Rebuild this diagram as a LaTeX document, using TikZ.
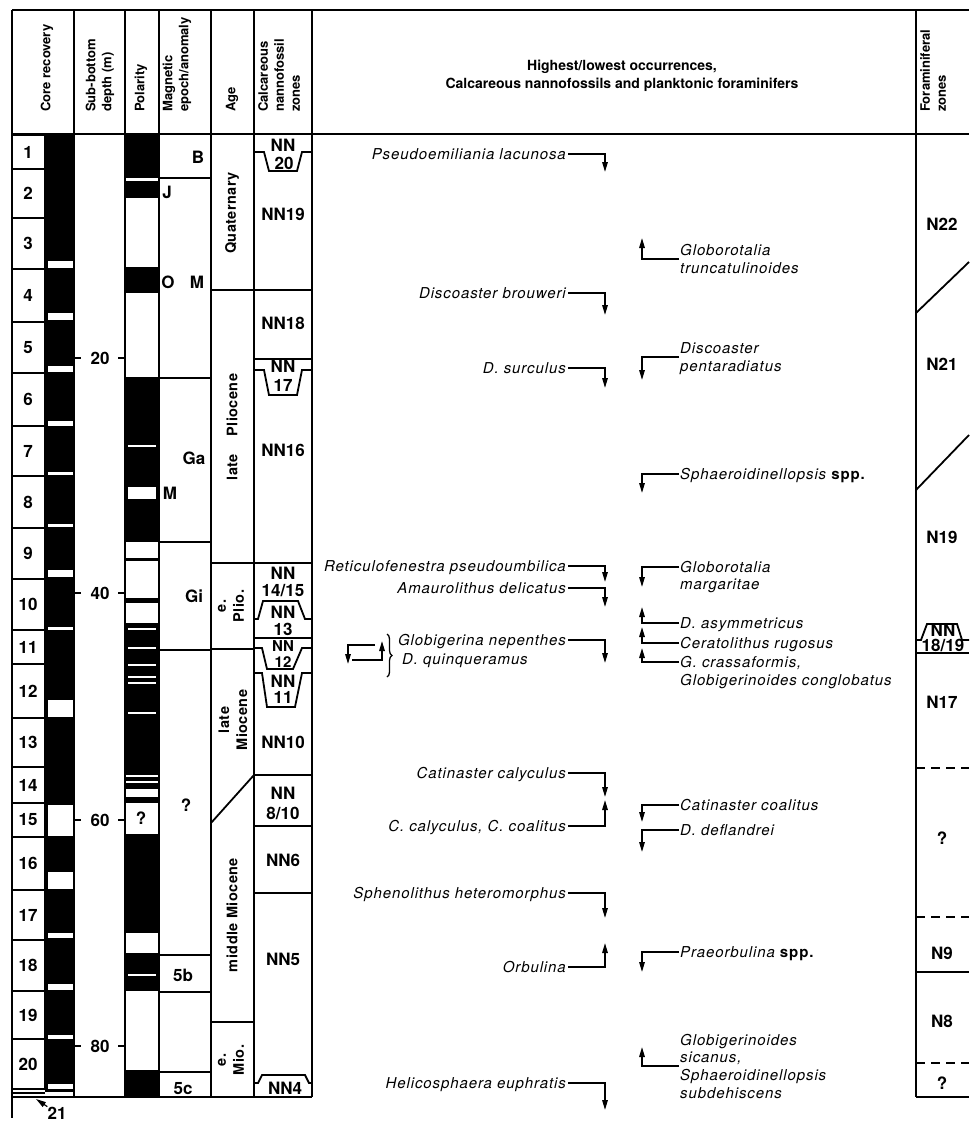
\documentclass[tikz,border=0pt]{standalone}
\usepackage{fontspec}
\setmainfont{TeX Gyre Heros}
\newfontfamily\spfont[LetterSpace=6]{TeX Gyre Heros}
\newfontfamily\lbfont[LetterSpace=3]{TeX Gyre Heros}
\usetikzlibrary{arrows.meta,calc,decorations.pathreplacing}
\begin{document}
\begin{tikzpicture}[x=1pt,y=-1pt,
  tbl/.style={line width=2pt},
  sepl/.style={line width=1.8pt},
  hdr/.style={font=\bfseries\fontsize{13}{16}\selectfont, rotate=90, anchor=west, align=left, inner sep=0pt},
  lbl/.style={font=\bfseries\fontsize{17}{18}\selectfont, inner sep=0pt},
  slbl/.style={font=\bfseries\fontsize{15}{16}\selectfont, inner sep=0pt},
  agel/.style={font=\lbfont\bfseries\fontsize{14.5}{18}\selectfont, rotate=90, align=center, inner sep=0pt},
  sp/.style={font=\spfont\itshape\fontsize{15}{17.5}\selectfont, inner sep=2pt, text height=10.5pt, text depth=0pt, anchor=east},
  fo/.style={font=\spfont\itshape\fontsize{15}{17.5}\selectfont, inner sep=1pt, text height=10.5pt, text depth=0pt, anchor=west},
  arr/.style={line width=1.5pt, -{Triangle[length=10pt,width=5.5pt]}},
  dsh/.style={line width=1.8pt, dash pattern=on 9pt off 6pt},
]
\useasboundingbox (0,0) rectangle (969,1124);
\fill[white] (0,0) rectangle (969,1124);

% ---------- core recovery bar ----------
\fill (45,135) rectangle (74,1092);
\foreach \a/\b in {261/268,313/320,366/372,421/426,472/475,524/527,570/577,627/630,700/717,805/836,872/889,933/938,984/990,1035/1039,1084/1089}
  \fill[white] (47.5,\a) rectangle (72.5,\b);

% ---------- core number boxes ----------
\foreach \t/\b/\n in {135/169/1,169/218/2,218/269/3,269/322/4,322/373/5,373/426/6,426/476/7,476/528/8,528/579/9,579/630/10,630/664/11,664/718/12,718/767/13,767/803/14,803/837/15,837/890/16,890/940/17,940/991/18,991/1039/19,1039/1089/20}{
  \draw[sepl] (12,\t) rectangle (45,\b);
  \node[lbl] (core\n) at (28,{(\t+\b)/2}) {\n};
}
\draw[sepl] (12,1093) -- (45,1093);

% ---------- polarity ----------
\foreach \a/\b in {135/178,181/198,267/293,377/542,558/561,598/603,623/775,777/781,783/789,797/803,834/933,953/991,1070/1097}
  \fill (125,\a) rectangle (159,\b);
\fill[white] (128,487) rectangle (156,499);
\foreach \y in {445.5,629,648,664.5,677,683,713,975}
  \fill[white] (128,\y-1) rectangle (156,\y+1);

% ---------- frame ----------
\draw[tbl] (12,10) -- (969,10);
\draw[tbl] (12,134) -- (969,134);
\draw[tbl] (12,1097) -- (312,1097);
\draw[tbl] (916,1097) -- (969,1097);
\draw[tbl] (12,10) -- (12,1118);
\foreach \x in {74,125,159,211,254,312,916}
  \draw[tbl] (\x,10) -- (\x,1097);

% ---------- headers ----------
\node[hdr] (hcore) at (47,112) {Core recovery};
\node[hdr] (hdep) at (100,112) {Sub-bottom\\depth (m)};
\node[hdr] (hpol) at (141,112) {Polarity};
\node[hdr] (hmag) at (177,112) {Magnetic\\epoch/anomaly};
\node[hdr] (hage) at (232,112) {Age};
\node[hdr] (hnan) at (279,112) {Calcareous\\nannofossil\\zones};
\node[hdr] (hfor) at (933,112) {Foraminiferal\\zones};
\node[font=\bfseries\fontsize{14}{18}\selectfont, align=center, inner sep=0pt] (hmain) at (622,76)
  {Highest/lowest occurrences,\\Calcareous nannofossils and planktonic foraminifers};

% ---------- depth ----------
\foreach \y/\d in {358/20,593/40,820/60,1046/80}{
  \node[lbl] (d\d) at (100,\y) {\d};
  \draw[sepl] (74,\y) -- (81,\y);
  \draw[sepl] (118,\y) -- (125,\y);
}

% ---------- magnetic epochs ----------
\foreach \y in {178,378,542,650,955,992,1072}
  \draw[sepl] (159,\y) -- (211,\y);
\node[lbl] (mB) at (198,157) {B};
\node[lbl] (mJ) at (167,192) {J};
\node[lbl] (mO) at (168,282) {O};
\node[lbl] (mM1) at (197,282) {M};
\node[lbl] (mGa) at (194,458) {Ga};
\node[lbl] (mM2) at (170,493) {M};
\node[lbl] (mGi) at (194,596) {Gi};
\node[lbl] (mQ) at (186,805) {?};
\node[lbl] (m5b) at (183,975) {5b};
\node[lbl] (m5c) at (183,1089) {5c};
\node[lbl] (pQ) at (141,818) {?};

% ---------- age ----------
\draw[sepl] (211,290) -- (312,290);
\draw[sepl] (211,563) -- (312,563);
\draw[sepl] (211,649) -- (254,649);
\draw[sepl] (211,823) -- (254,775);
\draw[sepl] (211,1022) -- (254,1022);
\node[agel] (aQ) at (232,213) {Quaternary};
\node[agel] (alP) at (232,427) {late\hspace{1.2em}Pliocene};
\node[agel] (aeP) at (231,606) {e.\\Plio.};
\node[agel] (alM) at (233,720) {late\\Miocene};
\node[agel] (amM) at (232,915) {middle Miocene};
\node[agel] (aeM) at (231,1060) {e.\\Mio.};

% ---------- nannofossil zones ----------
\draw[sepl] (254,152) -- (264,152) -- (269,171) -- (297,171) -- (302,152) -- (312,152);
\draw[sepl] (254,359) -- (312,359);
\draw[sepl] (254,370) -- (264,370) -- (269,395) -- (297,395) -- (302,370) -- (312,370);
\draw[sepl] (254,619) -- (258,619) -- (263,601) -- (298,601) -- (305,619) -- (312,619);
\draw[sepl] (254,638) -- (312,638);
\draw[sepl] (254,648) -- (262,648) -- (267,669) -- (293,669) -- (302,648) -- (312,648);
\draw[sepl] (254,673) -- (262,673) -- (267,707) -- (295,707) -- (302,673) -- (312,673);
\draw[sepl] (254,775) -- (312,775);
\draw[sepl] (254,826) -- (312,826);
\draw[sepl] (254,893) -- (312,893);
\draw[sepl] (254,1083) -- (258,1083) -- (262,1075) -- (305,1075) -- (309,1083) -- (312,1083);
\node[lbl] (n20a) at (283,145) {NN};
\node[lbl] (n20b) at (284,163) {20};
\node[lbl] (n19) at (283,214) {NN19};
\node[lbl] (n18) at (283,323) {NN18};
\node[lbl] (n17a) at (283,366) {NN};
\node[lbl] (n17b) at (283,385) {17};
\node[lbl] (n16) at (283,450) {NN16};
\node[lbl] (n14a) at (283,573) {NN};
\node[lbl] (n14b) at (283,591) {14/15};
\node[lbl] (n13a) at (283,612) {NN};
\node[lbl] (n13b) at (283,629) {13};
\node[slbl] (n12a) at (283,646) {NN};
\node[slbl] (n12b) at (283,662) {12};
\node[lbl] (n11a) at (283,681) {NN};
\node[lbl] (n11b) at (283,697) {11};
\node[lbl] (n10) at (283,742) {NN10};
\node[lbl] (n8a) at (283,793) {NN};
\node[lbl] (n8b) at (283,813) {8/10};
\node[lbl] (n6) at (283,860) {NN6};
\node[lbl] (n5) at (283,959) {NN5};
\node[lbl] (n4) at (285,1088) {NN4};

% ---------- foraminiferal zones ----------
\draw[sepl] (916,313) -- (969,262);
\draw[sepl] (916,490) -- (969,435);
\draw[sepl] (916,640) -- (921,640) -- (927,624) -- (957,624) -- (962,640) -- (969,640);
\draw[sepl] (916,653) -- (969,653);
\draw[dsh] (916,768) -- (969,768);
\draw[dsh] (916,917) -- (969,917);
\draw[sepl] (916,972) -- (969,972);
\draw[dsh] (916,1063) -- (969,1063);
\node[lbl] (f22) at (942,224) {N22};
\node[lbl] (f21) at (942,364) {N21};
\node[lbl] (f19) at (942,537) {N19};
\node[lbl] (f18a) at (943,630) {NN};
\node[lbl] (f18b) at (943,645) {18/19};
\node[lbl] (f17) at (942,702) {N17};
\node[lbl] (fq1) at (942,838) {?};
\node[lbl] (f9) at (942,953) {N9};
\node[lbl] (f8) at (942,1021) {N8};
\node[lbl] (fq2) at (942,1083) {?};

% ---------- core 21 ----------
\node[lbl] (core21) at (57,1113) {21};
\draw[arr, line width=1.2pt] (core21.north west) -- (36,1099);

% ---------- nannofossil events (left) ----------
\node[sp] (pl) at (568,154) {Pseudoemiliania lacunosa};
\node[sp] (db) at (568,293) {Discoaster brouweri};
\node[sp] (ds) at (568,368) {D. surculus};
\node[sp] (rp) at (568,566) {Reticulofenestra pseudoumbilica};
\node[sp] (ad) at (568,588) {Amaurolithus delicatus};
\node[sp] (gn) at (568,640) {Globigerina nepenthes};
\node[sp, anchor=west] (dq) at (400,659) {D. quinqueramus};
\node[sp] (cc) at (568,773) {Catinaster calyculus};
\node[sp] (ccc) at (568,826) {C. calyculus, C. coalitus};
\node[sp] (sh) at (568,893) {Sphenolithus heteromorphus};
\node[sp] (ob) at (568,967) {Orbulina};
\node[sp] (he) at (568,1083) {Helicosphaera euphratis};
\coordinate (plA) at (605,172);
\coordinate (dbA) at (605,315);
\coordinate (dsA) at (605,388);
\coordinate (rpA) at (605,582);
\coordinate (adA) at (605,607);
\coordinate (gnA) at (605,663);
\coordinate (ccA) at (605,797);
\coordinate (cccA) at (605,800);
\coordinate (shA) at (605,918);
\coordinate (obA) at (605,943);
\coordinate (heA) at (605,1110);
\foreach \n in {pl,db,ds,rp,ad,gn,cc,ccc,sh,ob,he}
  \draw[arr] (\n.east) -| (\n A);

% D. quinqueramus range symbol
\coordinate (q1) at (375,645);
\coordinate (q2) at (348,664);
\coordinate (q3) at (352,660);
\coordinate (q4) at (382,641);
\draw[arr] (q1) -| (q2);
\draw[arr] (q3) -| (q4);
\draw[line width=1.3pt, decorate, decoration={brace, amplitude=5pt}] (387,634) -- (387,677);

% ---------- foraminifer events (right) ----------
\node[fo] (gt1) at (679,250) {Globorotalia};
\node[fo] (gt2) at (679,268) {truncatulinoides};
\node[fo] (dp1) at (679,348) {Discoaster};
\node[fo] (dp2) at (679,366) {pentaradiatus};
\node[fo] (ss) at (679,474) {Sphaeroidinellopsis {\upshape\bfseries spp.}};
\node[fo] (gm1) at (679,567) {Globorotalia};
\node[fo] (gm2) at (679,584) {margaritae};
\node[fo] (da) at (679,623) {D. asymmetricus};
\node[fo] (cr) at (679,643) {Ceratolithus rugosus};
\node[fo] (gc1) at (679,662) {G. crassaformis,};
\node[fo] (gc2) at (679,680) {Globigerinoides conglobatus};
\node[fo] (cco) at (679,805) {Catinaster coalitus};
\node[fo] (dd) at (679,830) {D. deflandrei};
\node[fo] (ps) at (679,952) {Praeorbulina {\upshape\bfseries spp.}};
\node[fo] (gs1) at (679,1040) {Globigerinoides};
\node[fo] (gs2) at (679,1057) {sicanus,};
\node[fo] (gs3) at (679,1075) {Sphaeroidinellopsis};
\node[fo] (gs4) at (679,1093) {subdehiscens};
\coordinate (gtA) at (642,238);
\coordinate (dpA) at (642,380);
\coordinate (ssA) at (642,493);
\coordinate (gmA) at (642,587);
\coordinate (daA) at (642,607);
\coordinate (crA) at (642,627);
\coordinate (gcA) at (642,648);
\coordinate (ccoA) at (642,822);
\coordinate (ddA) at (642,852);
\coordinate (psA) at (642,972);
\coordinate (gsA) at (642,1047);
\draw[arr] ($(gt1.west)!0.5!(gt2.west)$) -| (gtA);
\draw[arr] ($(dp1.west)!0.5!(dp2.west)$) -| (dpA);
\draw[arr] ($(gs2.west)!0.5!(gs3.west)$) -| (gsA);
\foreach \n in {ss,da,cr,cco,dd,ps}
  \draw[arr] (\n.west) -| (\n A);
\draw[arr] (gm1.west) -| (gmA);
\draw[arr] (gc1.west) -| (gcA);
\end{tikzpicture}
\end{document}
